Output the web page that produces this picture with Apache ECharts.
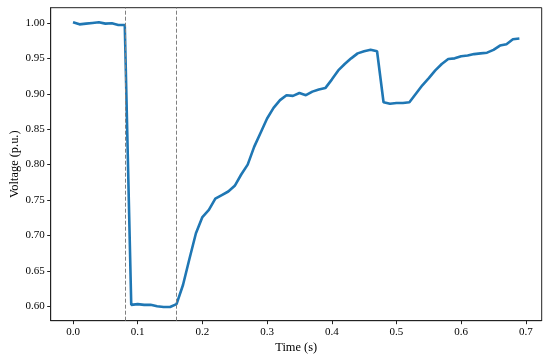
<!DOCTYPE html>
<html>
<head>
<meta charset="utf-8">
<script src="https://cdn.jsdelivr.net/npm/echarts@6/dist/echarts.min.js"></script>
<style>html,body{margin:0;padding:0;background:#fff}#c{width:550px;height:360px}</style>
</head>
<body>
<div id="c"></div>
<script>
const times = [0.00,0.01,0.02,0.03,0.04,0.05,0.06,0.07,0.08,0.09,
  0.10,0.11,0.12,0.13,0.14,0.15,0.16,0.17,0.18,0.19,
  0.20,0.21,0.22,0.23,0.24,0.25,0.26,0.27,0.28,0.29,
  0.30,0.31,0.32,0.33,0.34,0.35,0.36,0.37,0.38,0.39,
  0.40,0.41,0.42,0.43,0.44,0.45,0.46,0.47,0.48,0.49,
  0.50,0.51,0.52,0.53,0.54,0.55,0.56,0.57,0.58,0.59,
  0.60,0.61,0.62,0.63,0.64,0.65,0.66,0.67,0.68,0.69];
const voltage = [1.001,0.998,0.999,1.000,1.001,0.999,0.9995,0.997,0.997,0.602,
  0.603,0.602,0.602,0.600,0.599,0.599,0.603,0.630,0.667,0.703,
  0.726,0.736,0.752,0.757,0.762,0.770,0.786,0.800,0.825,0.845,
  0.865,0.880,0.891,0.898,0.897,0.901,0.898,0.903,0.906,0.908,
  0.920,0.933,0.942,0.950,0.957,0.960,0.962,0.960,0.888,0.886,
  0.887,0.887,0.888,0.900,0.912,0.922,0.933,0.942,0.949,0.950,
  0.953,0.954,0.956,0.957,0.958,0.962,0.968,0.970,0.977,0.978];
const faultTimes = [0.0845, 0.164];
const xTicks = [0.0,0.1,0.2,0.3,0.4,0.5,0.6,0.7];
const yTicks = [0.60,0.65,0.70,0.75,0.80,0.85,0.90,0.95,1.00];

const font = "'Liberation Serif', 'DejaVu Serif', serif";
const chart = echarts.init(document.getElementById('c'), null, {renderer: 'canvas'});
chart.setOption({
  animation: false,
  backgroundColor: '#ffffff',
  grid: {left: 50.7, right: 8.3, top: 7.7, bottom: 39.3, show: true, borderColor: '#222', borderWidth: 1,
    backgroundColor: 'transparent', containLabel: false, outerBoundsMode: 'none'},
  xAxis: {
    type: 'value', min: -0.0345, max: 0.7245,
    name: 'Time (s)', nameLocation: 'middle', nameGap: 21, nameMoveOverlap: false,
    nameTextStyle: {fontFamily: font, fontSize: 12.4, color: '#000'},
    axisLine: {show: true, onZero: false, lineStyle: {color: '#222', width: 1}},
    axisTick: {show: true, length: 3.5, customValues: xTicks, lineStyle: {color: '#222'}},
    axisLabel: {customValues: xTicks, margin: 6, fontFamily: font, fontSize: 11, color: '#000',
      formatter: v => v.toFixed(1)},
    splitLine: {show: false}
  },
  yAxis: {
    type: 'value', min: 0.5796, max: 1.0215,
    name: 'Voltage (p.u.)', nameLocation: 'middle', nameGap: 30, nameMoveOverlap: false,
    nameTextStyle: {fontFamily: font, fontSize: 12.4, color: '#000'},
    axisLine: {show: true, onZero: false, lineStyle: {color: '#222', width: 1}},
    axisTick: {show: true, length: 3.5, customValues: yTicks, lineStyle: {color: '#222'}},
    axisLabel: {customValues: yTicks, margin: 6, fontFamily: font, fontSize: 11, color: '#000',
      formatter: v => v.toFixed(2)},
    splitLine: {show: false}
  },
  series: [{
    type: 'line',
    data: times.map((t, i) => [t, voltage[i]]),
    showSymbol: false,
    symbol: 'none',
    lineStyle: {color: '#1f77b4', width: 2.6},
    markLine: {
      silent: true,
      symbol: ['none', 'none'],
      label: {show: false},
      lineStyle: {color: '#808080', width: 1, type: [4, 2]},
      data: faultTimes.map(t => ({xAxis: t}))
    }
  }]
});
</script>
</body>
</html>
